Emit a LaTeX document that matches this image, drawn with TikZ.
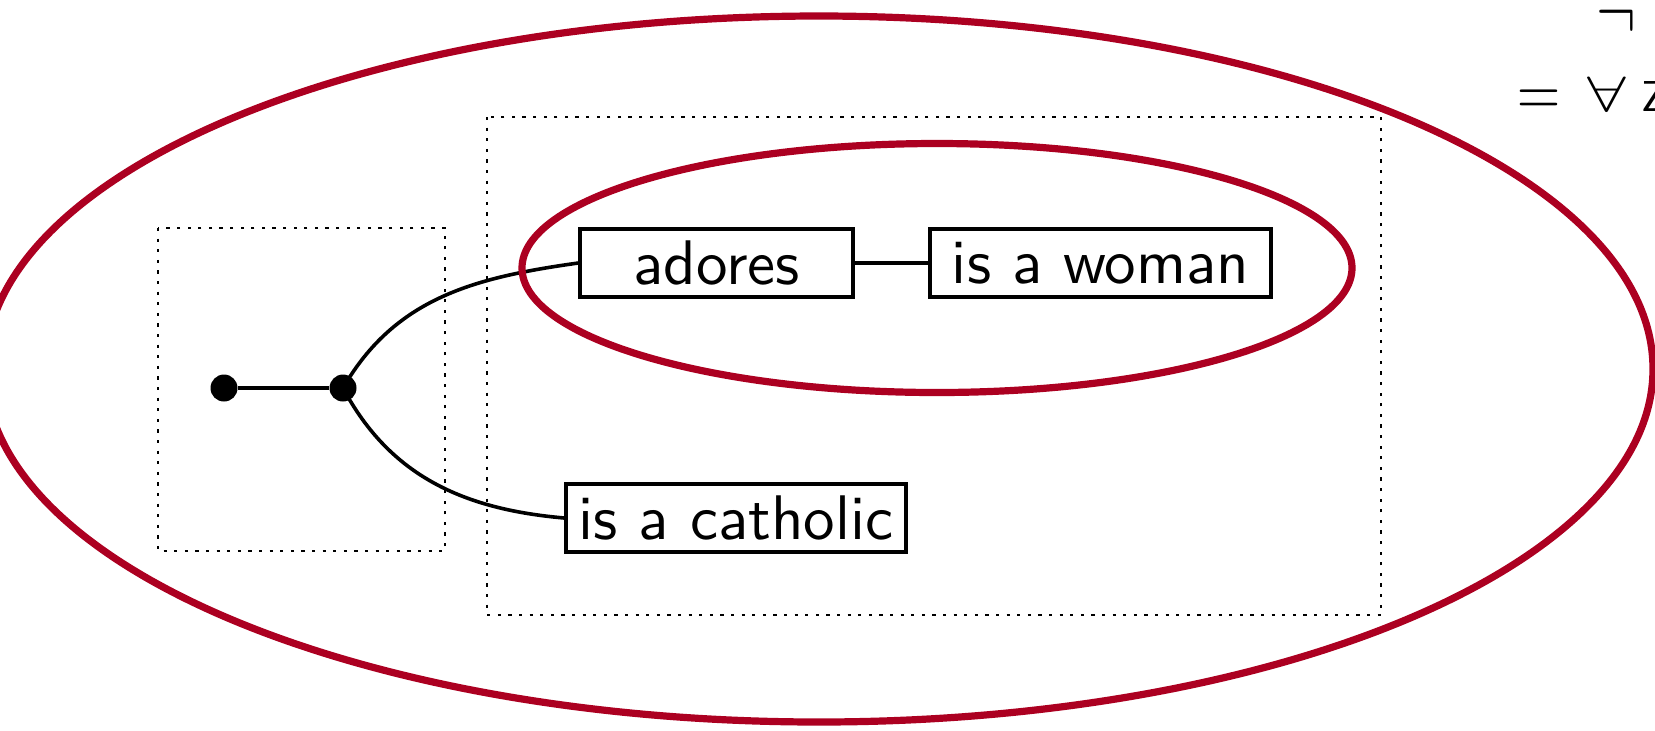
\documentclass[tikz,border=0pt]{standalone}
\usepackage{fontspec}
\usepackage{graphicx}
\newfontfamily\labelfont{lmsans10-regular.otf}
\definecolor{cutred}{RGB}{172,0,33}
\begin{document}
\begin{tikzpicture}[x=0.5pt,y=-0.5pt,
  pred/.style={draw, line width=1.8pt, inner sep=0pt, minimum height=34pt,
    font=\fontsize{31.5}{37}\selectfont\labelfont},
  spot/.style={circle, fill=black, inner sep=0pt, minimum size=13.5pt},
  wire/.style={line width=1.8pt},
  cut/.style={draw=cutred, line width=3.6pt},
  area/.style={line width=1.1pt, dash pattern=on 1.6pt off 3.7pt},
  sym/.style={inner sep=0pt, font=\fontsize{24.7}{30}\selectfont}]
\useasboundingbox (0,0) rectangle (1655,730);
\clip (0,0) rectangle (1655,730);

% dotted areas
\draw[area] (158,228) rectangle (445,551);
\draw[area] (487,117) rectangle (1381,615);

% predicate boxes
\node[pred, minimum width=136.5pt] (adores) at (716.5,263) {adores};
\node[pred, minimum width=170.5pt] (woman) at (1100.5,263) {is a woman};
\node[pred, minimum width=170pt] (catholic) at (736,518) {is a catholic};

% line of identity
\node[spot] (d1) at (224,388) {};
\node[spot] (d2) at (343,388) {};
\draw[wire] (d1) -- (d2);
\draw[wire] (d2.center) to[out=60,in=188] (adores.west);
\draw[wire] (d2.center) to[out=-62,in=175] (catholic.west);
\draw[wire] (adores.east) -- (woman.west);

% cuts
\draw[cut] (819,369) ellipse [x radius=834, y radius=353];
\draw[cut] (937,268) ellipse [x radius=415, y radius=124.5];

% symbols at the right edge
\node[sym, anchor=north west] (negsym) at (1596,4)
  {\scalebox{1.2}[1.6]{$\neg$}};
\node[sym, anchor=base west] (eqline) at (1517,111)
  {\raisebox{-2.5pt}{\scalebox{1.2}[1.5]{$=$}}\hspace{13.5pt}%
   \scalebox{1.4}[1]{$\forall$}\hspace{7.5pt}%
   {\fontsize{21.6}{26}\selectfont\labelfont Z}};
\end{tikzpicture}
\end{document}
